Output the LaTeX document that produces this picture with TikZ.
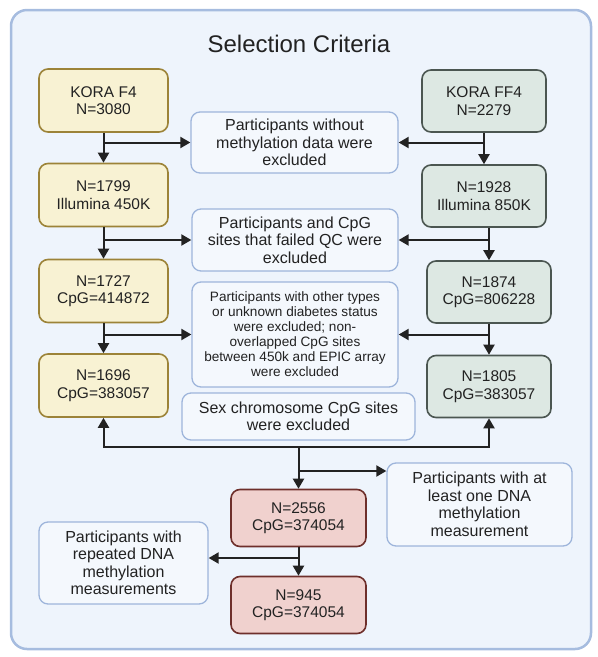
\documentclass[tikz,border=0pt]{standalone}
\usepackage{fontspec}
\setmainfont{Liberation Sans}
\usepackage{xcolor}
\usetikzlibrary{arrows.meta,calc}
\definecolor{bgblue}{HTML}{EEF4FC}
\definecolor{frameblue}{HTML}{A6BCDF}
\definecolor{ruleblue}{HTML}{9EB5DB}
\definecolor{rulefill}{HTML}{F4F8FD}
\definecolor{fourfill}{HTML}{F8F2D3}
\definecolor{fourdraw}{HTML}{9C8338}
\definecolor{fffill}{HTML}{DDE8E3}
\definecolor{ffdraw}{HTML}{4B5651}
\definecolor{outfill}{HTML}{F0D1CE}
\definecolor{outdraw}{HTML}{6E2F2B}
\definecolor{ink}{HTML}{222222}

\begin{document}
\begin{tikzpicture}[x=1pt, y=-1pt, text=ink, >={Triangle[length=10pt,width=11pt]},
 box/.style={rounded corners=9pt, line width=1.6pt, align=center, inner sep=0pt, font=\fontsize{15.5}{17.5}\selectfont},
 four node/.style={box, fill=fourfill, draw=fourdraw, minimum width=129pt, minimum height=63pt},
 ff node/.style={box, fill=fffill, draw=ffdraw, minimum width=124pt, minimum height=62pt},
 out node/.style={box, fill=outfill, draw=outdraw, minimum width=135pt, minimum height=57pt},
 rule node/.style={box, fill=rulefill, draw=ruleblue, line width=1.3pt, font=\fontsize{16}{17.5}\selectfont},
 arr/.style={draw=ink, line width=2pt, ->}]
\useasboundingbox (0,0) rectangle (598,657);
\draw[fill=bgblue, draw=frameblue, line width=2.5pt, rounded corners=16pt] (11,10) rectangle (591,649);
\node[font=\fontsize{24}{28}\selectfont, anchor=base] (t) at (299,52) {Selection Criteria};
% KORA F4 column
\node[four node] (1) at (103.5,100.5) {KORA F4\\N=3080};
\node[four node] (2) at (103.5,195) {N=1799\\Illumina 450K};
\node[four node] (3) at (103.5,291) {N=1727\\CpG=414872};
\node[four node] (4) at (103.5,385.5) {N=1696\\CpG=383057};
% KORA FF4 column
\node[ff node] (5) at (484,101) {KORA FF4\\N=2279};
\node[ff node] (6) at (484,196) {N=1928\\Illumina 850K};
\node[ff node] (7) at (489,292) {N=1874\\CpG=806228};
\node[ff node] (8) at (489,386.5) {N=1805\\CpG=383057};
% exclusion steps
\node[rule node, minimum width=207pt, minimum height=61pt] (a) at (294.5,142.5) {Participants without\\methylation data were\\excluded};
\node[rule node, minimum width=206pt, minimum height=62pt] (b) at (295,240) {Participants and CpG\\sites that failed QC were\\excluded};
\node[rule node, minimum width=206pt, minimum height=105pt, font=\fontsize{13.6}{15}\selectfont] (c) at (295,334.5) {Participants with other types\\or unknown diabetes status\\were excluded; non-\\overlapped CpG sites\\between 450k and EPIC array\\were excluded};
\node[rule node, minimum width=233pt, minimum height=47pt] (d) at (298.5,416.5) {Sex chromosome CpG sites\\were excluded};
% pooled samples
\node[out node] (9) at (298.5,518) {N=2556\\CpG=374054};
\node[out node] (10) at (298.5,605) {N=945\\CpG=374054};
\node[rule node, minimum width=185pt, minimum height=83pt] (e) at (479.5,504.5) {Participants with at\\least one DNA\\methylation\\measurement};
\node[rule node, minimum width=169pt, minimum height=82pt] (f) at (123.5,563) {Participants with\\repeated DNA\\methylation\\measurements};

\draw[arr] (1) -- (2);
\draw[arr] (1.south |- a.west) -- (a.west);
\draw[arr] (2) -- (3);
\draw[arr] (2.south |- b.west) -- (b.west);
\draw[arr] (3) -- (4);
\draw[arr] (3.south |- c.west) -- (c.west);
\draw[arr] (5) -- (6);
\draw[arr] (5.south |- a.east) -- (a.east);
\draw[arr] (7.north |- 6.south) -- (7.north);
\draw[arr] (7.north |- b.east) -- (b.east);
\draw[arr] (7) -- (8);
\draw[arr] (7.south |- c.east) -- (c.east);

\coordinate (j) at (298.5,447);
\draw[arr, <->] (4.south) |- (j) -| (8.south);
\draw[arr] (j) -- (9);
\coordinate (k) at (298.5,471);
\draw[arr] (k) -- (k -| e.west);
\draw[arr] (9) -- (10);
\coordinate (m) at (298.5,558);
\draw[arr] (m) -- (m -| f.east);
\end{tikzpicture}
\end{document}
